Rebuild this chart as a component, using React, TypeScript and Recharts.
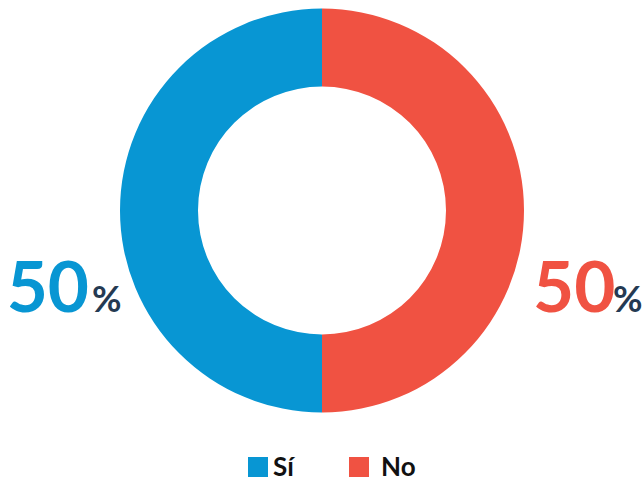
import React from "react";
import { PieChart, Pie, Cell, Legend } from "recharts";

const categories = ["Sí", "No"];
const values = [50, 50];
const colors = ["#0896D3", "#F05242"];

const data = categories.map((name, i) => ({ name, value: values[i] }));

const renderLabel = (props: any) => {
  const { cx, cy, midAngle, index, value } = props;
  const isLeft = Math.cos((midAngle * Math.PI) / 180) < 0;
  const y = cy + 101;
  const numX = isLeft ? cx - 233 : cx + 211;
  const pctX = isLeft ? cx - 230 : cx + 291;
  return (
    <g>
      <text
        x={numX}
        y={y}
        textAnchor={isLeft ? "end" : "start"}
        fontFamily="Lato, sans-serif"
        fontWeight={700}
        fontSize={71}
        fill={colors[index]}
      >
        {value}
      </text>
      <text
        x={pctX}
        y={y}
        textAnchor="start"
        fontFamily="Lato, sans-serif"
        fontWeight={700}
        fontSize={36}
        fill="#253A52"
      >
        %
      </text>
    </g>
  );
};

const squareLefts = [0, 101];
const textLefts = [25, 133];

const renderLegend = () => {
  return (
    <div style={{ position: "relative", width: 200, height: 22, fontFamily: "Lato, sans-serif" }}>
      {categories.map((name, i) => (
        <React.Fragment key={name}>
          <div
            style={{
              position: "absolute",
              left: squareLefts[i],
              top: 2,
              width: 20,
              height: 20,
              background: colors[i],
            }}
          />
          <span
            style={{
              position: "absolute",
              left: textLefts[i],
              top: 0,
              fontSize: 26,
              fontWeight: 700,
              color: "#111111",
              lineHeight: "22px",
              whiteSpace: "nowrap",
            }}
          >
            {name}
          </span>
        </React.Fragment>
      ))}
    </div>
  );
};

export default function App() {
  return (
    <div style={{ position: "absolute", left: 0, top: 0, width: 642, height: 479, background: "#fff" }}>
      <PieChart width={642} height={479} margin={{ top: 0, right: 0, bottom: 0, left: 0 }}>
        <Pie
          data={data}
          dataKey="value"
          nameKey="name"
          cx={322}
          cy={210.5}
          innerRadius={124}
          outerRadius={202}
          startAngle={90}
          endAngle={450}
          stroke="none"
          label={renderLabel}
          labelLine={false}
          isAnimationActive={false}
        >
          {data.map((d, i) => (
            <Cell key={d.name} fill={colors[i]} />
          ))}
        </Pie>
        <Legend
          content={renderLegend}
          wrapperStyle={{ position: "absolute", left: 248, top: 455, width: 200, height: 22 }}
        />
      </PieChart>
    </div>
  );
}
